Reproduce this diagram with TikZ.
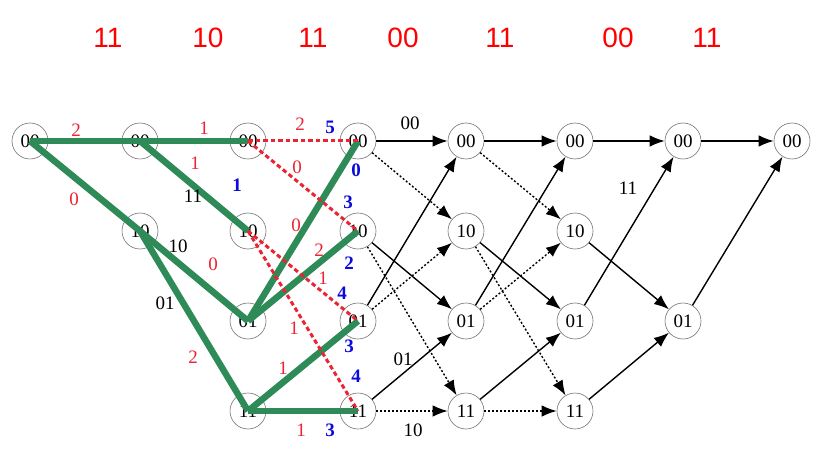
\documentclass[tikz,border=0pt]{standalone}
\usepackage{fontspec}
\setmainfont{Liberation Serif}
\newfontfamily\topfont{Liberation Sans}
\usetikzlibrary{arrows.meta}
\definecolor{pathgreen}{RGB}{46,139,87}
\definecolor{mred}{RGB}{235,35,50}
\definecolor{mblue}{RGB}{10,10,220}
\begin{document}
\begin{tikzpicture}[x=1pt,y=-1pt,
 st/.style={circle,draw=black!55,line width=0.6pt,minimum size=36pt,inner sep=0pt,font=\fontsize{19}{19}\selectfont},
 solidarr/.style={-{Latex[length=15pt,width=11.5pt]},line width=1.4pt},
 dotarr/.style={solidarr,dash pattern=on 2pt off 2pt},
 survivor/.style={line width=6.5pt,pathgreen},
 discard/.style={line width=3pt,mred,dash pattern=on 4.5pt off 3pt},
 bm/.style={text=mred,font=\fontsize{19}{19}\selectfont,inner sep=0pt},
 pm/.style={text=mblue,font=\fontsize{19}{19}\selectfont\bfseries,inner sep=0pt},
 outl/.style={font=\fontsize{19}{19}\selectfont,inner sep=0pt},
 rx/.style={text=red,font=\topfont\fontsize{28}{28}\selectfont,inner sep=0pt}]
\useasboundingbox (0,0) rectangle (837,454);
% received sequence
\node[rx] (r1) at (108,38) {11};
\node[rx] (r2) at (208,38) {10};
\node[rx] (r3) at (313,38) {11};
\node[rx] (r4) at (403,38) {00};
\node[rx] (r5) at (500,38) {11};
\node[rx] (r6) at (618,38) {00};
\node[rx] (r7) at (707,38) {11};
% states
\node[st] (n0-00) at (30,141) {00};
\node[st] (n1-00) at (140,141) {00};
\node[st] (n1-10) at (140,231) {10};
\foreach \c/\x in {2/248,3/358,4/466,5/575}{
  \node[st] (n\c-00) at (\x,141) {00};
  \node[st] (n\c-10) at (\x,231) {10};
  \node[st] (n\c-01) at (\x,321) {01};
  \node[st] (n\c-11) at (\x,411) {11};
}
\node[st] (n6-00) at (683,141) {00};
\node[st] (n6-01) at (683,321) {01};
\node[st] (n7-00) at (792,141) {00};
% trellis branches
\foreach \a/\b in {3/4,4/5}{
  \draw[solidarr] (n\a-00) -- (n\b-00);
  \draw[dotarr] (n\a-00) -- (n\b-10);
  \draw[solidarr] (n\a-10) -- (n\b-01);
  \draw[dotarr] (n\a-10) -- (n\b-11);
  \draw[solidarr] (n\a-01) -- (n\b-00);
  \draw[dotarr] (n\a-01) -- (n\b-10);
  \draw[solidarr] (n\a-11) -- (n\b-01);
  \draw[dotarr] (n\a-11) -- (n\b-11);
}
\draw[solidarr] (n5-00) -- (n6-00);
\draw[solidarr] (n5-10) -- (n6-01);
\draw[solidarr] (n5-01) -- (n6-00);
\draw[solidarr] (n5-11) -- (n6-01);
\draw[solidarr] (n6-00) -- (n7-00);
\draw[solidarr] (n6-01) -- (n7-00);
% survivor paths
\draw[survivor] (n0-00.center) -- (n1-00.center) -- (n2-00.center);
\draw[survivor] (n0-00.center) -- (n1-10.center);
\draw[survivor] (n1-00.center) -- (n2-10.center);
\draw[survivor] (n1-10.center) -- (n2-01.center);
\draw[survivor] (n1-10.center) -- (n2-11.center);
\draw[survivor] (n2-01.center) -- (n3-00.center);
\draw[survivor] (n2-01.center) -- (n3-10.center);
\draw[survivor] (n2-11.center) -- (n3-01.center);
\draw[survivor] (n2-11.center) -- (n3-11.center);
% discarded branches
\draw[discard] (n2-00.center) -- (n3-00.center);
\draw[discard] (n2-00.center) -- (n3-10.center);
\draw[discard] (n2-10.center) -- (n3-01.center);
\draw[discard] (n2-10.center) -- (n3-11.center);
% branch metrics
\node[bm] (b1) at (76,130) {2};
\node[bm] (b2) at (204,128) {1};
\node[bm] (b3) at (195,163) {1};
\node[bm] (b4) at (74,199) {0};
\node[bm] (b5) at (213,264) {0};
\node[bm] (b6) at (193,357) {2};
\node[bm] (b7) at (300,124) {2};
\node[bm] (b8) at (297,167) {0};
\node[bm] (b9) at (296,225) {0};
\node[bm] (b10) at (319,250) {2};
\node[bm] (b11) at (323,278) {1};
\node[bm] (b12) at (294,328) {1};
\node[bm] (b13) at (283,368) {1};
\node[bm] (b14) at (301,430) {1};
% path metrics
\node[pm] (p1) at (237,185) {1};
\node[pm] (p2) at (330,127) {5};
\node[pm] (p3) at (356,170) {0};
\node[pm] (p4) at (348,202) {3};
\node[pm] (p5) at (349,263) {2};
\node[pm] (p6) at (342,293) {4};
\node[pm] (p7) at (349,346) {3};
\node[pm] (p8) at (356,376) {4};
\node[pm] (p9) at (330,430) {3};
% output labels
\node[outl] (o1) at (193,196) {11};
\node[outl] (o2) at (178,246) {10};
\node[outl] (o3) at (165,303) {01};
\node[outl] (o4) at (410,123) {00};
\node[outl] (o5) at (403,359) {01};
\node[outl] (o6) at (413,430) {10};
\node[outl] (o7) at (628,188) {11};
\end{tikzpicture}
\end{document}
